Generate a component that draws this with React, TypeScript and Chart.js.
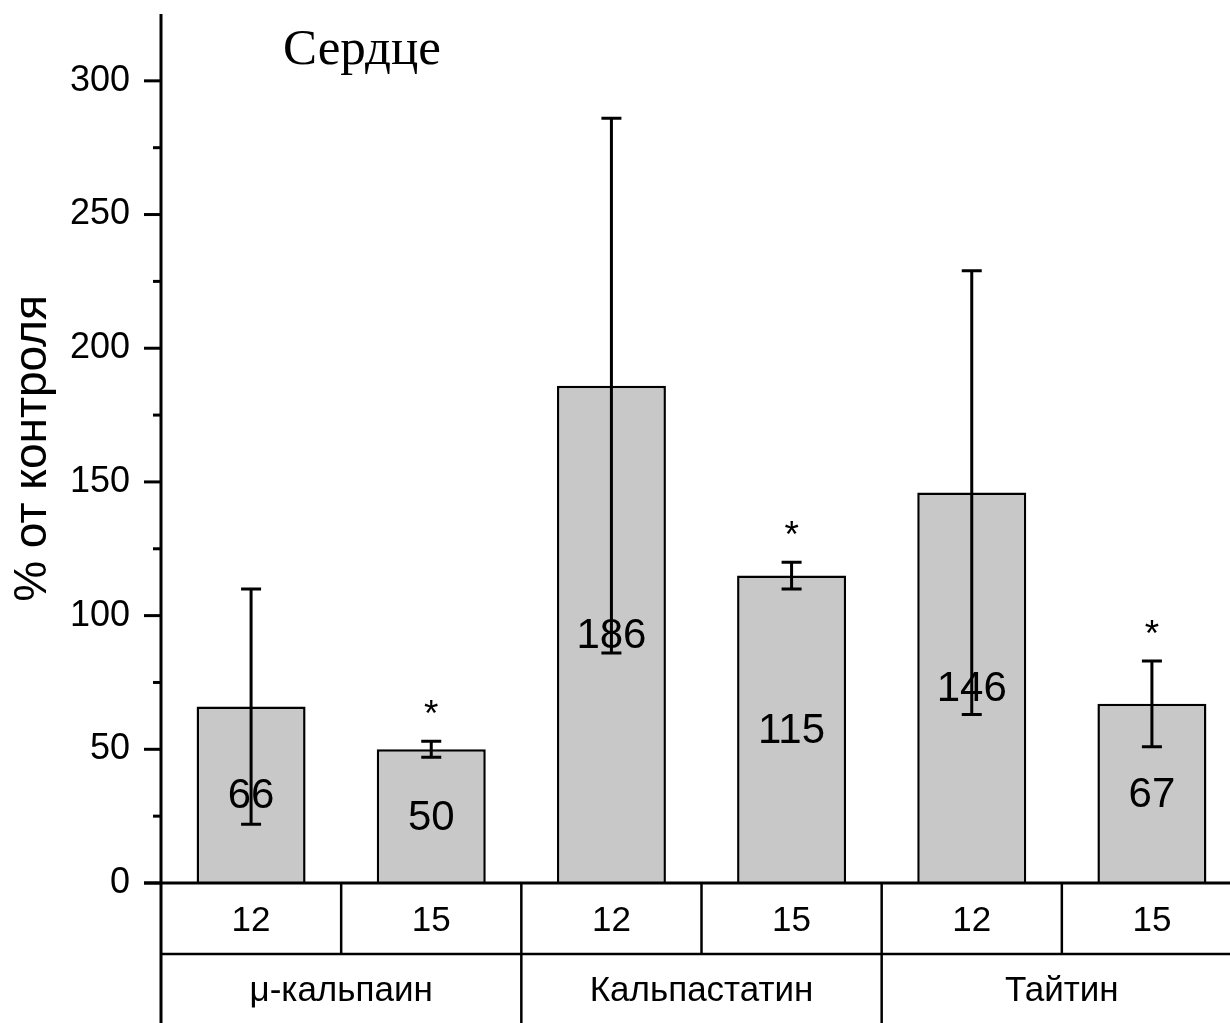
import React, { useEffect, useRef } from 'react';
import { Chart, registerables } from 'chart.js';

Chart.register(...registerables);

const categories = ['12', '15', '12', '15', '12', '15'];
const groups = ['μ-кальпаин', 'Кальпастатин', 'Тайтин'];
const values = [66, 50, 186, 115, 146, 67];
const errors = [44, 3, 100, 5, 83, 16];
const significant = [false, true, false, true, false, true];
const yTicks = [0, 50, 100, 150, 200, 250, 300];
const chartTitle = 'Сердце';
const yTitle = '% от контроля';

const SANS = '"Liberation Sans", Arial, sans-serif';
const SERIF = '"Liberation Serif", "Times New Roman", serif';

const overlay = {
  id: 'overlay',
  afterDatasetsDraw(chart: any) {
    const ctx = chart.ctx;
    const x = chart.scales.x;
    const y = chart.scales.y;
    ctx.save();
    values.forEach((v, i) => {
      const cx = x.getPixelForValue(i);
      const top = y.getPixelForValue(v + errors[i]);
      const bot = y.getPixelForValue(v - errors[i]);
      ctx.fillStyle = '#000';
      ctx.font = `42px ${SANS}`;
      ctx.textAlign = 'center';
      ctx.textBaseline = 'middle';
      ctx.fillText(String(v), cx, y.getPixelForValue(v / 2) + 2);
      ctx.strokeStyle = '#000';
      ctx.lineWidth = 3;
      ctx.beginPath();
      ctx.moveTo(cx, top);
      ctx.lineTo(cx, bot);
      ctx.moveTo(cx - 10, top);
      ctx.lineTo(cx + 10, top);
      ctx.moveTo(cx - 10, bot);
      ctx.lineTo(cx + 10, bot);
      ctx.stroke();
      if (significant[i]) {
        ctx.font = `37px ${SANS}`;
        ctx.textBaseline = 'alphabetic';
        ctx.fillText('*', cx, top - 15);
      }
    });
    ctx.restore();
  },
  afterDraw(chart: any) {
    const ctx = chart.ctx;
    const x = chart.scales.x;
    const y = chart.scales.y;
    const area = chart.chartArea;
    const H = chart.height;
    ctx.save();
    ctx.strokeStyle = '#000';
    // y axis line
    ctx.lineWidth = 3;
    ctx.beginPath();
    ctx.moveTo(area.left, area.top);
    ctx.lineTo(area.left, H);
    ctx.stroke();
    // x axis line
    const y0 = y.getPixelForValue(0);
    ctx.beginPath();
    ctx.moveTo(area.left - 17, y0);
    ctx.lineTo(area.right, y0);
    ctx.stroke();
    // y ticks
    ctx.lineWidth = 3;
    y.ticks.forEach((t: any) => {
      if (t.value >= 325) return;
      const py = y.getPixelForValue(t.value);
      const len = yTicks.includes(t.value) ? 17 : 8;
      ctx.beginPath();
      ctx.moveTo(area.left - len, py);
      ctx.lineTo(area.left, py);
      ctx.stroke();
    });
    // table
    const rowSplit = y0 + 71;
    ctx.lineWidth = 2.5;
    ctx.beginPath();
    ctx.moveTo(area.left, rowSplit);
    ctx.lineTo(area.right, rowSplit);
    ctx.stroke();
    for (let i = 1; i < categories.length; i++) {
      const bx = (x.getPixelForValue(i - 1) + x.getPixelForValue(i)) / 2;
      ctx.beginPath();
      ctx.moveTo(bx, y0);
      ctx.lineTo(bx, i % 2 === 0 ? H : rowSplit);
      ctx.stroke();
    }
    ctx.fillStyle = '#000';
    ctx.textAlign = 'center';
    ctx.textBaseline = 'middle';
    ctx.font = `35px ${SANS}`;
    categories.forEach((c, i) => {
      ctx.fillText(c, x.getPixelForValue(i), (y0 + rowSplit) / 2 + 3);
    });
    groups.forEach((g, gi) => {
      const gx = (x.getPixelForValue(gi * 2) + x.getPixelForValue(gi * 2 + 1)) / 2;
      ctx.fillText(g, gx, (rowSplit + H) / 2 + 3);
    });
    // title
    ctx.textAlign = 'left';
    ctx.textBaseline = 'alphabetic';
    ctx.font = `51px ${SERIF}`;
    ctx.fillText(chartTitle, area.left + 122, area.top + 50);
    ctx.restore();
  },
};

export default function App() {
  const ref = useRef<HTMLCanvasElement>(null);
  useEffect(() => {
    document.body.style.margin = '0';
    const chart = new Chart(ref.current as HTMLCanvasElement, {
      type: 'bar',
      data: {
        labels: categories,
        datasets: [
          {
            data: values,
            backgroundColor: '#c8c8c8',
            borderColor: '#000',
            borderWidth: 2.5,
            barPercentage: 0.605,
            categoryPercentage: 1,
          },
        ],
      },
      options: {
        responsive: false,
        animation: false,
        devicePixelRatio: 1,
        layout: { padding: { top: 14, left: 0, right: 0, bottom: 0 } },
        plugins: { legend: { display: false }, tooltip: { enabled: false } },
        scales: {
          x: {
            grid: { display: false, drawTicks: false },
            border: { display: false },
            ticks: { display: false },
            afterFit(s: any) {
              s.height = 140;
              s.paddingLeft = 0;
              s.paddingRight = 0;
            },
          },
          y: {
            min: 0,
            max: 325,
            grid: { display: false, drawTicks: false },
            border: { display: false },
            ticks: {
              stepSize: 25,
              autoSkip: false,
              padding: 31,
              color: '#000',
              font: { family: SANS, size: 36 },
              callback: (v: any) => (yTicks.includes(Number(v)) ? String(v) : ''),
            },
            title: {
              display: true,
              text: yTitle,
              color: '#000',
              font: { family: SANS, size: 46 },
              padding: { top: 6, bottom: 0 },
            },
            afterFit(s: any) {
              s.width = 161;
              s.paddingTop = 0;
              s.paddingBottom = 0;
            },
          },
        },
      },
      plugins: [overlay],
    } as any);
    return () => chart.destroy();
  }, []);
  return (
    <div style={{ width: 1230, height: 1023, overflow: 'hidden', position: 'relative' }}>
      <canvas ref={ref} width={1242} height={1023} style={{ display: 'block' }} />
    </div>
  );
}
